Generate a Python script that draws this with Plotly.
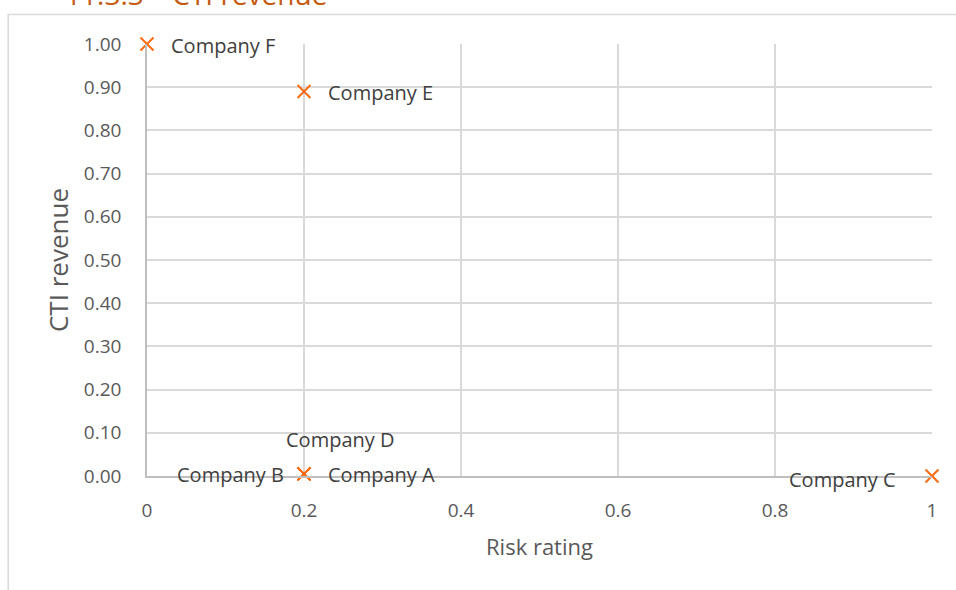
import plotly.graph_objects as go

# Company positions: risk rating (x) vs. CTI revenue (y)
companies = ["Company A", "Company B", "Company C", "Company D", "Company E", "Company F"]
risk_rating = [0.2, 0.2, 1.0, 0.2, 0.2, 0.0]
cti_revenue = [0.005, 0.005, 0.0, 0.005, 0.89, 1.0]

# label placement for each point: (xanchor, xshift, yshift)
label_place = {
    "Company A": ("left", 22, -1),
    "Company B": ("right", -18, -1),
    "Company C": ("right", -34, -3),
    "Company D": ("center", 36, 34),
    "Company E": ("left", 22, -1),
    "Company F": ("left", 22, -1),
}

x_ticks = [0, 0.2, 0.4, 0.6, 0.8, 1.0]
x_tick_text = ["0", "0.2", "0.4", "0.6", "0.8", "1"]
y_ticks = [round(i * 0.1, 1) for i in range(11)]
y_tick_text = [f"{v:.2f}" for v in y_ticks]

FONT = "Open Sans"
TEXT = "#595959"
MARK = "#FF6A10"

fig = go.Figure()
fig.add_trace(go.Scatter(
    x=risk_rating, y=cti_revenue, mode="markers",
    marker=dict(symbol="x-thin", size=13, color=MARK,
                line=dict(color=MARK, width=2)),
    hovertext=companies, showlegend=False, cliponaxis=False,
))

annotations = []
for name, xv, yv in zip(companies, risk_rating, cti_revenue):
    anchor, dx, dy = label_place[name]
    annotations.append(dict(
        x=xv, y=yv, xref="x", yref="y", text=name, showarrow=False,
        xanchor=anchor, yanchor="middle", xshift=dx, yshift=dy,
        font=dict(family=FONT, size=20, color="#404040"),
    ))

# chart heading
annotations.append(dict(
    x=-0.1075, y=1.0675, xref="paper", yref="paper",
    text="11.3.3 – CTI revenue", showarrow=False,
    xanchor="left", yanchor="bottom",
    font=dict(family=FONT, size=28, color="#C55A11"),
))

fig.update_layout(
    width=956, height=590,
    margin=dict(l=146.5, r=23.5, t=43.5, b=113.5),
    paper_bgcolor="white", plot_bgcolor="white",
    font=dict(family=FONT, color=TEXT),
    annotations=annotations,
    shapes=[dict(
        type="rect", xref="paper", yref="paper",
        x0=-0.1768, x1=1.2, y0=-0.4, y1=1.068,
        line=dict(color="#D9D9D9", width=1.5), fillcolor="rgba(0,0,0,0)",
        layer="below",
    )],
    xaxis=dict(
        range=[0, 1], tickvals=x_ticks, ticktext=x_tick_text,
        showgrid=True, gridcolor="#D9D9D9", gridwidth=1.5,
        zeroline=False, showline=True, linecolor="#BFBFBF", linewidth=1.5,
        ticks="outside", ticklen=16, tickcolor="rgba(0,0,0,0)",
        tickfont=dict(family=FONT, size=19, color=TEXT),
        title=dict(text="Risk rating", font=dict(family=FONT, size=22, color=TEXT),
                   standoff=18),
    ),
    yaxis=dict(
        range=[0, 1], tickvals=y_ticks, ticktext=y_tick_text,
        showgrid=True, gridcolor="#D9D9D9", gridwidth=1.5,
        zeroline=False, showline=True, linecolor="#BFBFBF", linewidth=1.5,
        ticks="outside", ticklen=20, tickcolor="rgba(0,0,0,0)",
        tickfont=dict(family=FONT, size=19, color=TEXT),
        title=dict(text="CTI revenue", font=dict(family=FONT, size=26, color=TEXT),
                   standoff=8),
    ),
)

fig.write_html("out.html")
